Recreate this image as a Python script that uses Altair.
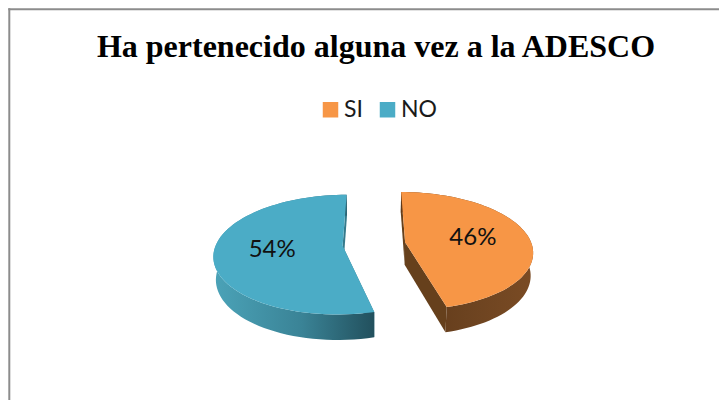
import math
import altair as alt
import pandas as pd

# ---- data ----
labels = ["SI", "NO"]
values = [46, 54]
title_text = "Ha pertenecido alguna vez a la ADESCO"

# ---- styles ----
top_colors = ["#F79646", "#4BACC6"]
face_colors = ["#66401c", "#35798b"]
wall_stops = [
    [("#5f3818", 0.0), ("#6c4320", 0.5), ("#7a4b24", 1.0)],
    [("#4ba3b8", 0.0), ("#3a8396", 0.55), ("#22505d", 1.0)],
]

W, H = 711, 392
R = 126.5          # pie radius (px at centre depth)
EXPL = 31.5        # explosion distance
T = 26.0           # slab thickness
A = math.radians(27.3)
SA, CA = math.sin(A), math.cos(A)
Z = 766.0          # camera distance (perspective)
X0, Y0 = 366.0, 236.0
N = 72
LBL = 0.55

df = pd.DataFrame({"label": labels, "value": values, "idx": list(range(len(labels)))})

xs = alt.X("px:Q", scale=alt.Scale(domain=[0, W], nice=False, zero=False), axis=None)
ys = alt.Y("py:Q", scale=alt.Scale(domain=[0, H], nice=False, zero=False, reverse=True), axis=None)


def base():
    return (
        alt.Chart(df)
        .transform_joinaggregate(total="sum(value)")
        .transform_window(cum="sum(value)", sort=[alt.SortField("idx")], frame=[None, 0])
        .transform_calculate(a0="2*PI*(datum.cum-datum.value)/datum.total")
        .transform_calculate(a1="2*PI*datum.cum/datum.total")
        .transform_calculate(am="(datum.a0+datum.a1)/2")
        .transform_calculate(cu=f"{EXPL}*sin(datum.am)")
        .transform_calculate(cw=f"-{EXPL}*cos(datum.am)")
    )


def project(ch):
    return (
        ch.transform_calculate(s=f"1/(1-(datum.w*{CA}+datum.h*{SA})/{Z})")
        .transform_calculate(px=f"{X0}+datum.u*datum.s")
        .transform_calculate(py=f"{Y0}+(datum.w*{SA}-datum.h*{CA})*datum.s")
    )


layers = []

# border of the chart area
border = pd.DataFrame({"z": [0]})
layers.append(alt.Chart(border).mark_rule(color="#8c8c8c", strokeWidth=2).encode(
    x=alt.value(1.3), y=alt.value(0.3), y2=alt.value(H)))
layers.append(alt.Chart(border).mark_rule(color="#8c8c8c", strokeWidth=2).encode(
    y=alt.value(1.3), x=alt.value(0.3), x2=alt.value(W)))

# title
layers.append(alt.Chart(pd.DataFrame({"t": [title_text]})).mark_text(
    font="Liberation Serif", fontSize=32, fontWeight="bold", align="center",
    baseline="alphabetic", color="#000000").encode(
    x=alt.value(368), y=alt.value(49), text="t:N"))

# radial cut faces
for i, lab in enumerate(labels):
    faces = project(
        base().transform_filter(alt.datum.label == lab)
        .transform_calculate(ff="sequence(0,2)").transform_flatten(["ff"])
        .transform_calculate(k="sequence(0,4)").transform_flatten(["k"])
        .transform_calculate(t="datum.ff==0?datum.a0:datum.a1")
        .transform_calculate(rr=f"(datum.k==1||datum.k==2)?{R}:0")
        .transform_calculate(h=f"datum.k>=2?{-T}:0")
        .transform_calculate(u="datum.cu+datum.rr*sin(datum.t)")
        .transform_calculate(w="datum.cw-datum.rr*cos(datum.t)")
    ).mark_line(filled=True, fill=face_colors[i], strokeWidth=0).encode(
        x=xs, y=ys, order=alt.Order("k:Q"), detail="ff:N")
    layers.append(faces)

# outer walls
for i, lab in enumerate(labels):
    grad = alt.Gradient(gradient="linear", x1=0, x2=1, y1=0, y2=0,
                        stops=[alt.GradientStop(color=c, offset=o) for c, o in wall_stops[i]])
    wall = project(
        base().transform_filter(alt.datum.label == lab)
        .transform_calculate(k=f"sequence(0,{2 * N + 2})").transform_flatten(["k"])
        .transform_calculate(j=f"datum.k<={N}?datum.k:{2 * N + 1}-datum.k")
        .transform_calculate(h=f"datum.k<={N}?0:{-T}")
        .transform_calculate(t=f"datum.a0+datum.j/{N}*(datum.a1-datum.a0)")
        .transform_calculate(u=f"datum.cu+{R}*sin(datum.t)")
        .transform_calculate(w=f"datum.cw-{R}*cos(datum.t)")
    ).mark_line(filled=True, fill=grad, strokeWidth=0).encode(
        x=xs, y=ys, order=alt.Order("k:Q"))
    layers.append(wall)

# top faces
top = project(
    base()
    .transform_calculate(k=f"sequence(0,{N + 2})").transform_flatten(["k"])
    .transform_calculate(t=f"datum.a0+max(datum.k-1,0)/{N}*(datum.a1-datum.a0)")
    .transform_calculate(rr=f"datum.k==0?0:{R}")
    .transform_calculate(u="datum.cu+datum.rr*sin(datum.t)")
    .transform_calculate(w="datum.cw-datum.rr*cos(datum.t)")
    .transform_calculate(h="0")
).mark_line(filled=True, strokeWidth=0).encode(
    x=xs, y=ys, order=alt.Order("k:Q"),
    color=alt.Color("label:N", scale=alt.Scale(domain=labels, range=top_colors),
                    legend=alt.Legend(title=None, orient="none", legendX=311, legendY=90,
                                      direction="horizontal", symbolType="square",
                                      symbolSize=240, symbolStrokeWidth=0,
                                      labelFont="Lato", labelFontSize=23,
                                      labelColor="#1a1a1a", labelOffset=2,
                                      columnPadding=13, padding=0)))
layers.append(top)

# percentage labels
lab_layer = project(
    base()
    .transform_calculate(u=f"datum.cu+{LBL * R}*sin(datum.am)")
    .transform_calculate(w=f"datum.cw-{LBL * R}*cos(datum.am)")
    .transform_calculate(h="0")
    .transform_calculate(txt="format(datum.value/datum.total,'.0%')")
).mark_text(font="Lato", fontSize=24, color="#111111").encode(x=xs, y=ys, text="txt:N")
layers.append(lab_layer)

chart = alt.layer(*layers).properties(
    width=W, height=H, padding=0, autosize=alt.AutoSizeParams(type="none")
).configure_view(strokeWidth=0)

chart.save("out.html", embed_options={"renderer": "svg", "actions": False})
